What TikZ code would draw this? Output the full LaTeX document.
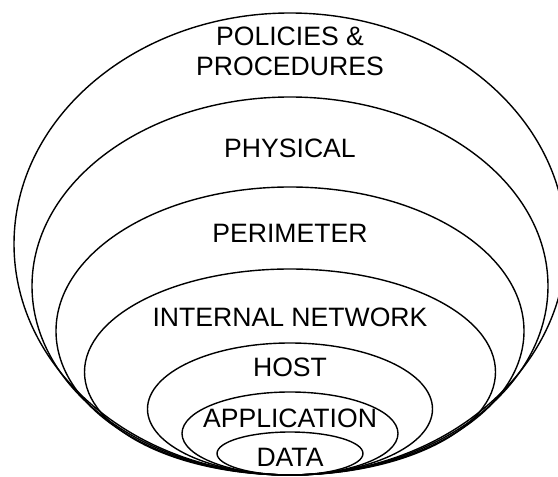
\documentclass[tikz,border=0pt]{standalone}
\usepackage{fontspec}
\setmainfont{Liberation Sans}
\begin{document}
\begin{tikzpicture}[x=1pt, y=1pt,
  ring/.style={line width=1.4pt},
  lbl/.style={font=\fontsize{26.6}{30}\selectfont, anchor=base, inner sep=0pt}]
  \useasboundingbox (0,0) rectangle (558,477);
  \clip (0,0) rectangle (558,477);
  % nested layers, all tangent at the bottom point
  \draw[ring] (290,233)   ellipse [x radius=276, y radius=231];
  \draw[ring] (290,191)   ellipse [x radius=258, y radius=189];
  \draw[ring] (290,146)   ellipse [x radius=234, y radius=144];
  \draw[ring] (290,105)   ellipse [x radius=205.5, y radius=103];
  \draw[ring] (290,68)    ellipse [x radius=142.5, y radius=66];
  \draw[ring] (290,43.5)  ellipse [x radius=108, y radius=41.5];
  \draw[ring] (290,23.5)  ellipse [x radius=73, y radius=21.5];
  % layer names
  \node[lbl, align=center, anchor=north] (policies) at (290,450) {POLICIES \&\\PROCEDURES};
  \node[lbl] (physical)  at (290,319) {PHYSICAL};
  \node[lbl] (perimeter) at (290,234) {PERIMETER};
  \node[lbl] (internal)  at (290,150) {INTERNAL NETWORK};
  \node[lbl] (host)      at (290,100) {HOST};
  \node[lbl] (app)       at (290,49)  {APPLICATION};
  \node[lbl] (data)      at (290,10)  {DATA};
\end{tikzpicture}
\end{document}
